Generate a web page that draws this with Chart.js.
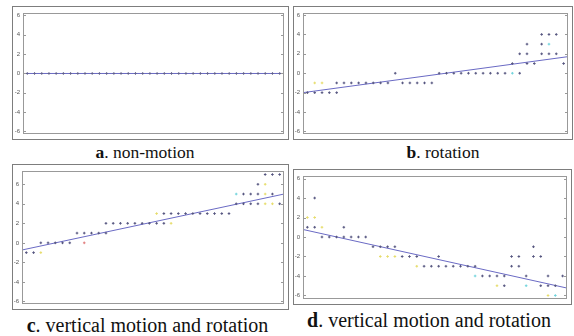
<!DOCTYPE html>
<html>
<head>
<meta charset="utf-8">
<script src="https://cdn.jsdelivr.net/npm/chart.js@4"></script>
<style>
  body { margin: 0; background: #fff; }
  #page { position: relative; width: 574px; height: 336px; overflow: hidden; }
  .panel { position: absolute; }
  .cap { position: absolute; font-family: "Liberation Serif", "Times New Roman", serif; color: #111;
         line-height: 1; white-space: nowrap; transform: translateX(-50%); }
</style>
</head>
<body>
<div id="page"></div>
<script>
// shared axis values
const xMin = -0.6, xMax = 35.6;
const yTicks = [-6, -4, -2, 0, 2, 4, 6];

// a. non-motion
const aDarkX = [0,1,2,3,4,5,6,7,8,9,10,11,12,13,14,15,16,17,18,19,20,21,22,23,24,25,26,27,28,29,30,31,32,33,34,35];
const aDarkY = [0,0,0,0,0,0,0,0,0,0,0,0,0,0,0,0,0,0,0,0,0,0,0,0,0,0,0,0,0,0,0,0,0,0,0,0];
const aFit = [0, 0];

// b. rotation
const bDarkX = [0,1,2,3,4, 4,5,6,7,8,9,10,11,13,14,15,16,17, 12,18,19,20,21,22,23,24,25,26,27,29, 28,30,31,35, 29,30,32,33,34, 30,32, 32,33,34];
const bDarkY = [-2,-2,-2,-2,-2, -1,-1,-1,-1,-1,-1,-1,-1,-1,-1,-1,-1,-1, 0,0,0,0,0,0,0,0,0,0,0,0, 1,1,1,1, 2,2,2,2,2, 3,3, 4,4,4];
const bYellowX = [1, 2];
const bYellowY = [-1, -1];
const bCyanX = [28, 33];
const bCyanY = [0, 3];
const bFit = [-2.0, 1.71];

// c. vertical motion and rotation
const cDarkX = [0,1, 2,3,4,5,6, 7,8,9,10,11, 11,12,13,14,15,16,17,18,19, 19,20,21,22,23,24,25,26,27,28, 29,30,31,32,35, 30,31,32,34, 32, 33,34,35];
const cDarkY = [-1,-1, 0,0,0,0,0, 1,1,1,1,1, 2,2,2,2,2,2,2,2,2, 3,3,3,3,3,3,3,3,3,3, 4,4,4,4,4, 5,5,5,5, 6, 7,7,7];
const cYellowX = [2, 18, 20, 33, 34, 33, 33];
const cYellowY = [-1, 3, 2, 4, 4, 5, 6];
const cCyanX = [29];
const cCyanY = [5];
const cRedX = [8];
const cRedY = [0];
const cFit = [-0.73, 5.0];

// d. vertical motion and rotation
const dDarkX = [1, 0,1,5, 2,3,4,5,6,7,8, 9,10,11,12, 13,14,15,18,28,29,31,32, 16,17,18,19,20,21,22,23,28,29, 31, 24,25,26,27,30,33,35, 27,32,33,34];
const dDarkY = [4, 1,1,1, 0,0,0,0,0,0,0, -1,-1,-1,-1, -2,-2,-2,-2,-2,-2,-2,-2, -3,-3,-3,-3,-3,-3,-3,-3,-3,-3, -1, -4,-4,-4,-4,-4,-4,-4, -5,-5,-5,-5];
const dYellowX = [0, 1, 2, 10, 11, 12, 15, 26, 33];
const dYellowY = [2, 2, 1, -2, -2, -2, -3, -5, -6];
const dCyanX = [23, 30, 34];
const dCyanY = [-4, -5, -6];
const dFit = [0.77, -5.24];

const captionLetters = ['a', 'b', 'c', 'd'];
const captionTexts = ['. non-motion', '. rotation', '. vertical motion and rotation', '. vertical motion and rotation'];

function pts(xs, ys) { return xs.map((x, i) => ({ x: x, y: ys[i] })); }

const boxPlugin = {
  id: 'box',
  afterDraw(chart) {
    const ctx = chart.ctx, a = chart.chartArea, y = chart.scales.y;
    ctx.save();
    ctx.strokeStyle = '#7d7d7d';
    ctx.lineWidth = 1;
    ctx.strokeRect(0.5, 0.5, chart.width - 1, chart.height - 1);
    ctx.strokeStyle = '#999';
    ctx.strokeRect(Math.round(a.left) + 0.5, Math.round(a.top) + 0.5, Math.round(a.right - a.left) - 1, Math.round(a.bottom - a.top) - 1);
    ctx.beginPath();
    y.ticks.forEach(t => {
      const p = Math.round(y.getPixelForValue(t.value)) + 0.5;
      ctx.moveTo(a.left, p); ctx.lineTo(a.left + 3, p);
      ctx.moveTo(a.right - 3, p); ctx.lineTo(a.right, p);
    });
    ctx.stroke();
    ctx.restore();
  }
};

function scatterSet(xs, ys, color) {
  return { type: 'scatter', data: pts(xs, ys), pointStyle: 'cross', pointRadius: 1.3,
           borderColor: color, backgroundColor: color, pointBorderWidth: 1, showLine: false };
}

function fitSet(fit) {
  return { type: 'line', data: [{ x: xMin, y: fit[0] }, { x: xMax, y: fit[1] }],
           borderColor: '#6a6ac4', borderWidth: 1, pointRadius: 0, fill: false };
}

const panels = [
  { frame: [12, 6, 277, 134], area: [23, 8, 286, 139], yMin: -6.2, yMax: 6.3,
    sets: [scatterSet(aDarkX, aDarkY, '#62628e'), fitSet(aFit)],
    cap: [145, 143.5, 17.5] },
  { frame: [293, 6, 280, 134], area: [303, 8, 571, 139], yMin: -6.2, yMax: 6.25,
    sets: [scatterSet(bDarkX, bDarkY, '#55557f'), scatterSet(bYellowX, bYellowY, '#e6dc6a'),
           scatterSet(bCyanX, bCyanY, '#6fd3dc'), fitSet(bFit)],
    cap: [443, 143.8, 17.5] },
  { frame: [12, 164, 277, 146], area: [22, 166, 287, 309], yMin: -6.2, yMax: 7.4,
    sets: [scatterSet(cDarkX, cDarkY, '#55557f'), scatterSet(cYellowX, cYellowY, '#e6dc6a'),
           scatterSet(cCyanX, cCyanY, '#6fd3dc'), scatterSet(cRedX, cRedY, '#e07a7a'), fitSet(cFit)],
    cap: [147.5, 315, 20] },
  { frame: [293, 169, 279, 136], area: [303, 171, 569, 303], yMin: -6.3, yMax: 6.3,
    sets: [scatterSet(dDarkX, dDarkY, '#55557f'), scatterSet(dYellowX, dYellowY, '#e6dc6a'),
           scatterSet(dCyanX, dCyanY, '#6fd3dc'), fitSet(dFit)],
    cap: [429, 310.3, 20] }
];

const page = document.getElementById('page');
panels.forEach((p, k) => {
  const [fx, fy, fw, fh] = p.frame;
  const [al, at, ar, ab] = p.area;
  const div = document.createElement('div');
  div.className = 'panel';
  div.style.left = fx + 'px'; div.style.top = fy + 'px';
  div.style.width = fw + 'px'; div.style.height = fh + 'px';
  const cv = document.createElement('canvas');
  div.appendChild(cv);
  page.appendChild(div);

  new Chart(cv, {
    type: 'scatter',
    data: { datasets: p.sets },
    options: {
      responsive: true,
      maintainAspectRatio: false,
      animation: false,
      layout: { padding: { left: 0, top: at - fy, right: fx + fw - ar, bottom: fy + fh - ab } },
      plugins: { legend: { display: false }, tooltip: { enabled: false } },
      scales: {
        x: { type: 'linear', min: xMin, max: xMax, display: false },
        y: {
          type: 'linear', min: p.yMin, max: p.yMax,
          afterBuildTicks: s => { s.ticks = yTicks.map(v => ({ value: v })); },
          afterFit: s => { s.width = al - fx; },
          grid: { display: false, drawTicks: false },
          border: { display: false },
          ticks: { padding: 3, color: '#555', font: { family: 'Liberation Sans', size: 6 } }
        }
      }
    },
    plugins: [boxPlugin]
  });

  const cap = document.createElement('div');
  cap.className = 'cap';
  cap.style.left = p.cap[0] + 'px';
  cap.style.top = p.cap[1] + 'px';
  cap.style.fontSize = p.cap[2] + 'px';
  const b = document.createElement('b');
  b.textContent = captionLetters[k];
  cap.appendChild(b);
  cap.appendChild(document.createTextNode(captionTexts[k]));
  page.appendChild(cap);
});
</script>
</body>
</html>
